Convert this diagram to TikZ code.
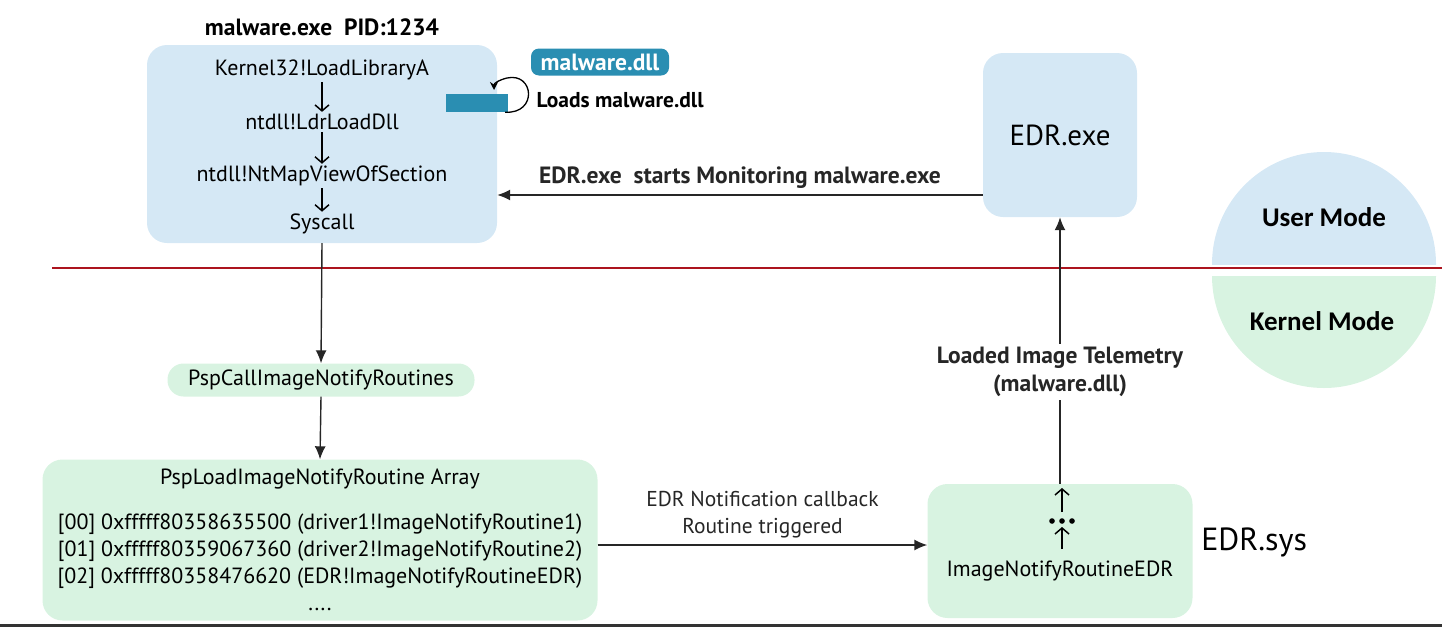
\documentclass[tikz,border=0pt]{standalone}
\usepackage{fontspec}
\setmainfont{PT Sans}
\newfontfamily\modefont{Carlito}
\usepackage{tikz}
\usetikzlibrary{arrows.meta,positioning}
\definecolor{usrblue}{RGB}{213,232,245}
\definecolor{krngreen}{RGB}{216,243,225}
\definecolor{dllteal}{RGB}{42,142,178}
\definecolor{modered}{RGB}{172,20,30}
\tikzstyle{userbox} = [rectangle, rounded corners=20pt, fill=usrblue, draw=none]
\tikzstyle{kernbox} = [rectangle, rounded corners=20pt, fill=krngreen, draw=none]
\tikzstyle{calltext} = [font=\fontsize{22}{26}\selectfont, inner sep=2pt]
\tikzstyle{boldtext} = [font=\bfseries\fontsize{23.5}{28}\selectfont]
\tikzstyle{arrow} = [line width=1.4pt, color=black!85, -{Latex[length=13pt,width=11pt]}]
\tikzstyle{callarrow} = [line width=1.5pt, -{Straight Barb[length=6pt,width=14pt,line width=1.5pt]}]

\begin{document}
\begin{tikzpicture}[x=1pt,y=-1pt]
\useasboundingbox (0,0) rectangle (1442,627);

% User / Kernel mode split
\begin{scope}
\clip (1100,0) rectangle (1442,264);
\fill[usrblue] (1324,264) circle (112);
\end{scope}
\begin{scope}
\clip (1100,276) rectangle (1442,627);
\fill[krngreen] (1324,276) circle (112);
\end{scope}
\draw[modered, line width=2.6pt] (52,268) -- (1442,268);
\node (usermode) at (1324,217) [font=\modefont\bfseries\fontsize{27}{32}\selectfont] {User Mode};
\node (kernelmode) at (1322,321) [font=\modefont\bfseries\fontsize{27}{32}\selectfont] {Kernel Mode};

% malware.exe process
\node (title) at (322,27) [boldtext] {malware.exe\ \ PID:1234};
\node (malware) [userbox, minimum width=350pt, minimum height=198pt] at (322,144) {};
\node (loadlib) [calltext] at (322,70) {Kernel32!LoadLibraryA};
\node (ldrload) [calltext] at (322,122) {ntdll!LdrLoadDll};
\node (mapview) [calltext] at (322,176) {ntdll!NtMapViewOfSection};
\node (syscall) [calltext] at (322,224) {Syscall};
\draw[callarrow] (loadlib) -- (ldrload);
\draw[callarrow] (ldrload) -- (mapview);
\draw[callarrow] (mapview) -- (syscall);

% loaded dll
\node (dllslot) [fill=dllteal, minimum width=62pt, minimum height=18pt, inner sep=0pt] at (477,103) {};
\node (dllname) [fill=dllteal, rounded corners=8pt, text=white, boldtext, minimum width=138pt, minimum height=27pt, inner sep=2pt] at (600,62) {malware.dll};
\node (loadsnote) [anchor=west, font=\bfseries\fontsize{21.5}{26}\selectfont] at (533,100) {Loads malware.dll};
\coordinate (loopend) at (494,90);
\draw[line width=1.3pt, -{Stealth[length=8pt,width=8pt]}] ([xshift=-3pt]dllslot.south east) .. controls (538,114) and (534,72) .. (507,78) .. controls (499,80) and (494,83) .. (loopend);

% EDR.exe
\node (edrexe) [userbox, minimum width=154pt, minimum height=164pt, font=\fontsize{29}{34}\selectfont] at (1060,135) {EDR.exe};
\draw[arrow] ([yshift=-60pt]edrexe.west) -- ([yshift=-60pt]edrexe.west -| malware.east)
  node[midway, above=2pt, boldtext] {EDR.exe\ \ starts Monitoring malware.exe};

% Kernel side
\node (pspcall) [kernbox, rounded corners=16pt, minimum width=307pt, minimum height=33pt, calltext] at (321,380) {PspCallImageNotifyRoutines};
\draw[arrow] (malware.south) -- (pspcall.north);

\node (array) [kernbox, minimum width=555pt, minimum height=161pt] at (320,540) {};
\node (arraytitle) [calltext] at (320,479) {PspLoadImageNotifyRoutine Array};
\node (entries) [align=center, font=\fontsize{22}{27}\selectfont] at (320,562)
  {[00] 0xfffff80358635500 (driver1!ImageNotifyRoutine1)\\{}[01] 0xfffff80359067360 (driver2!ImageNotifyRoutine2)\\{}[02] 0xfffff80358476620 (EDR!ImageNotifyRoutineEDR)\\{}....};
\draw[arrow] (pspcall.south) -- (array.north);

% EDR driver
\node (imgnotify) [kernbox, minimum width=265pt, minimum height=134pt] at (1060,551) {};
\node (routine) [calltext] at (1060,571) {ImageNotifyRoutineEDR};
\coordinate (dots) at (1062,521);
\fill (1052,521) circle (2.8) (1062,521) circle (2.8) (1072,521) circle (2.8);
\draw[callarrow] ([yshift=-28pt]dots) -- ([yshift=-6pt]dots);
\draw[callarrow] ([yshift=9pt]dots) -- ([yshift=33pt]dots);
\node (edrsys) [right=5pt of imgnotify, yshift=9pt, font=\fontsize{32}{36}\selectfont] {EDR.sys};

\draw[arrow] ([yshift=-5pt]array.east) -- ([yshift=-5pt]array.east -| imgnotify.west)
  node[midway, above=3pt, align=center, font=\fontsize{21.5}{27}\selectfont] {EDR Notification callback\\Routine triggered};
\draw[arrow] (imgnotify.north) -- (edrexe.south)
  node[pos=0.42, fill=white, align=center, boldtext] {Loaded Image Telemetry\\(malware.dll)};

% frame edge
\draw[black!80, line width=3pt] (0,625.5) -- (1442,625.5);
\end{tikzpicture}
\end{document}
